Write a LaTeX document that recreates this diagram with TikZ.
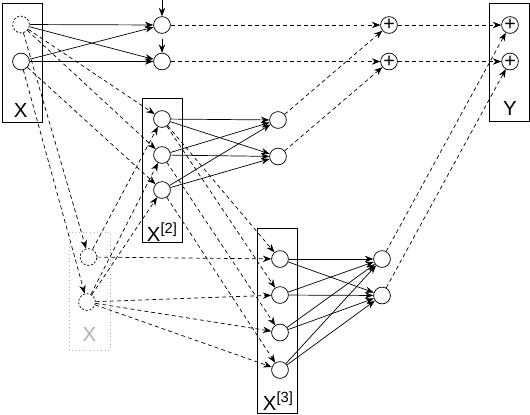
\documentclass[tikz,border=0pt]{standalone}
\usepackage{fontspec}
\setmainfont{Liberation Sans}
\usetikzlibrary{arrows.meta}

\begin{document}
\begin{tikzpicture}[scale=0.25]
\tikzstyle{every node}+=[inner sep=0pt]
\tikzstyle{neuron}=[draw, circle, minimum size=0.42cm, line width=0.5pt]
\tikzstyle{ghost}=[neuron, dash pattern=on 1.5pt off 1.2pt]
\tikzstyle{adder}=[neuron, font=\fontsize{14}{14}\selectfont]
\tikzstyle{link}=[-{Stealth[length=2.1mm,width=1.6mm]}, line width=0.5pt]
\tikzstyle{skip}=[link, dash pattern=on 2.8pt off 2.2pt]
\tikzstyle{boxlabel}=[font=\fontsize{14.5}{16}\selectfont]
\useasboundingbox (0,0) rectangle (53,-41.4);
\draw [black, line width=0.5pt] (0.2,-0.33) rectangle (4.2,-12.2);
\draw [black, line width=0.5pt] (48.9,-0.33) rectangle (52.9,-12.1);
\draw [black, line width=0.5pt] (14.2,-9.83) rectangle (18.2,-24.2);
\draw [black, line width=0.5pt] (25.75,-22.85) rectangle (29.75,-41.3);
\draw [gray!60, dotted, line width=0.6pt] (6.9,-23.2) rectangle (11,-35);
\node [boxlabel] (lx) at (2.07,-11.05) {X};
\node [boxlabel] (ly) at (51,-10.8) {Y};
\node [boxlabel] (lx2) at (16.2,-23.2) {X\raisebox{0.75ex}{\fontsize{10.5}{11}\selectfont[2]}};
\node [boxlabel] (lx3) at (27.8,-40.1) {X\raisebox{0.75ex}{\fontsize{10.5}{11}\selectfont[3]}};
\node [boxlabel, text=gray!60] (lg) at (8.93,-33.4) {X};
\node [ghost] (x1) at (2.1,-2.45) {};
\node [neuron] (x2) at (2.1,-6.15) {};
\node [neuron] (h1) at (16.2,-2.5) {};
\node [neuron] (h2) at (16.2,-6.15) {};
\node [adder] (p1) at (38.9,-2.5) {+};
\node [adder] (p2) at (38.9,-6.15) {+};
\node [adder] (y1) at (51,-2.5) {+};
\node [adder] (y2) at (51,-6.15) {+};
\node [neuron] (a1) at (16.2,-11.9) {};
\node [neuron] (a2) at (16.2,-15.5) {};
\node [neuron] (a3) at (16.2,-19) {};
\node [neuron] (c1) at (27.8,-12) {};
\node [neuron] (c2) at (27.8,-15.65) {};
\node [ghost] (g1) at (8.85,-25.7) {};
\node [ghost] (g2) at (8.7,-30.2) {};
\node [neuron] (b1) at (28,-25.9) {};
\node [neuron] (b2) at (28,-29.5) {};
\node [neuron] (b3) at (28,-33.25) {};
\node [neuron] (b4) at (28,-37) {};
\node [neuron] (d1) at (38.2,-25.9) {};
\node [neuron] (d2) at (38.2,-29.55) {};
\coordinate (hb1) at (16.2,0);
\coordinate (hb2) at (16.2,-3.85);
\draw [link] (hb1) -- (h1);
\draw [link] (hb2) -- (h2);
\draw [link] (x1) -- (h1);
\draw [link] (x1) -- (h2);
\draw [link] (x2) -- (h1);
\draw [link] (x2) -- (h2);
\draw [skip] (h1) -- (p1);
\draw [skip] (h2) -- (p2);
\draw [skip] (p1) -- (y1);
\draw [skip] (p2) -- (y2);
\draw [skip] (x1) -- (g1);
\draw [skip] (x2) -- (g2);
\draw [skip] (x1) -- (a1);
\draw [skip] (x1) -- (a2);
\draw [skip] (x2) -- (a3);
\draw [skip] (g1) -- (a1);
\draw [skip] (g2) -- (a2);
\draw [skip] (g2) -- (a3);
\draw [link] (a1) -- (c1);
\draw [link] (a1) -- (c2);
\draw [link] (a2) -- (c1);
\draw [link] (a2) -- (c2);
\draw [link] (a3) -- (c1);
\draw [link] (a3) -- (c2);
\draw [skip] (c1) -- (p1);
\draw [skip] (c2) -- (p2);
\draw [skip] (a1) -- (b1);
\draw [skip] (a1) -- (b2);
\draw [skip] (a2) -- (b3);
\draw [skip] (a3) -- (b4);
\draw [skip] (g1) -- (b1);
\draw [skip] (g2) -- (b2);
\draw [skip] (g2) -- (b3);
\draw [skip] (g2) -- (b4);
\draw [link] (b1) -- (d1);
\draw [link] (b1) -- (d2);
\draw [link] (b2) -- (d1);
\draw [link] (b2) -- (d2);
\draw [link] (b3) -- (d1);
\draw [link] (b3) -- (d2);
\draw [link] (b4) -- (d1);
\draw [link] (b4) -- (d2);
\draw [skip] (d1) -- (y1);
\draw [skip] (d2) -- (y2);
\end{tikzpicture}
\end{document}
